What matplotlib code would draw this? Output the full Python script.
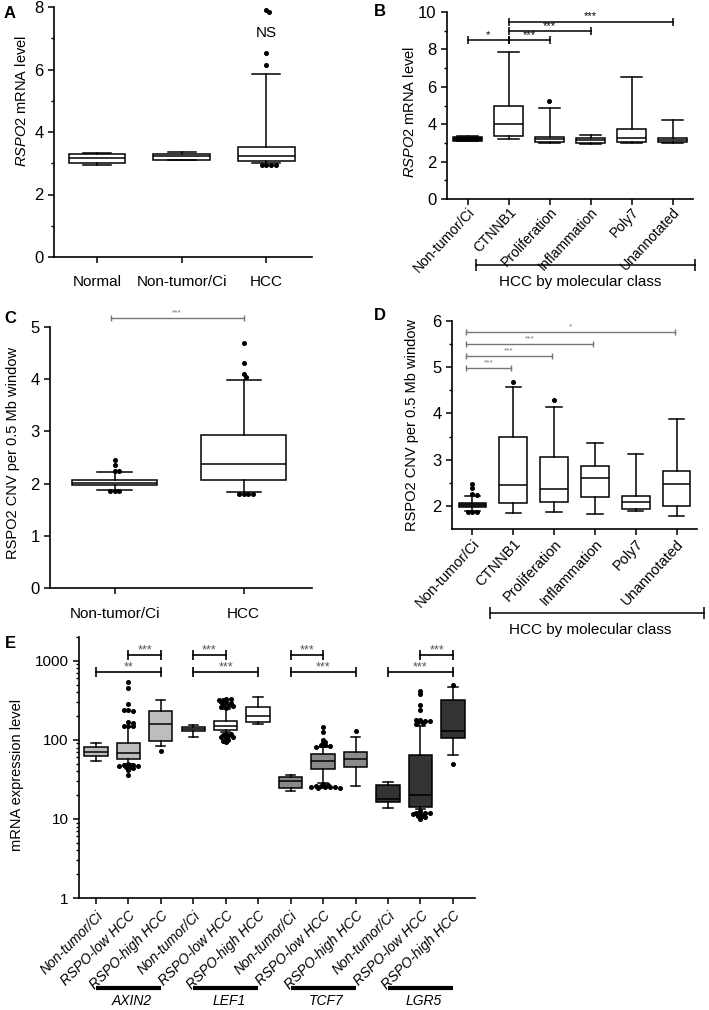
import matplotlib
matplotlib.use("Agg")
import matplotlib.pyplot as plt
import numpy as np

plt.rcParams['font.family'] = ['Liberation Sans', 'DejaVu Sans']
plt.rcParams['mathtext.fontset'] = 'custom'
plt.rcParams['mathtext.it'] = 'Liberation Sans:italic'
plt.rcParams['mathtext.rm'] = 'Liberation Sans'

# ---------------- DATA ----------------
# Panel A
A_cats = ["Normal", "Non-tumor/Ci", "HCC"]
A_q1 = [3.00, 3.12, 3.08]
A_med = [3.16, 3.22, 3.23]
A_q3 = [3.30, 3.30, 3.51]
A_lo = [2.93, 3.10, 3.02]
A_hi = [3.32, 3.37, 5.86]
A_fliers = [[], [], [7.90, 7.85, 6.52, 6.14, 2.96, 2.95, 2.94, 2.95]]

# Panel B
B_cats = ["Non-tumor/Ci", "CTNNB1", "Proliferation", "Inflammation", "Poly7", "Unannotated"]
B_q1 = [3.12, 3.36, 3.06, 3.02, 3.06, 3.06]
B_med = [3.20, 4.02, 3.19, 3.15, 3.24, 3.18]
B_q3 = [3.34, 4.98, 3.33, 3.27, 3.75, 3.26]
B_lo = [3.10, 3.19, 2.97, 2.94, 3.00, 3.02]
B_hi = [3.38, 7.86, 4.88, 3.42, 6.50, 4.20]
B_fliers = [[], [], [5.22], [], [], []]
B_sig = [(1, 2, 8.49, "*"), (2, 3, 8.49, "***"), (2, 4, 8.97, "***"), (2, 6, 9.47, "***")]

# Panel C
C_cats = ["Non-tumor/Ci", "HCC"]
C_q1 = [1.97, 2.06]
C_med = [2.01, 2.37]
C_q3 = [2.06, 2.93]
C_lo = [1.88, 1.83]
C_hi = [2.22, 3.98]
C_fliers = [[2.46, 2.35, 2.24, 2.25, 1.86, 1.85, 1.86],
            [4.70, 4.31, 4.10, 4.05, 1.80, 1.80, 1.80, 1.80]]

# Panel D
D_cats = ["Non-tumor/Ci", "CTNNB1", "Proliferation", "Inflammation", "Poly7", "Unannotated"]
D_q1 = [1.97, 2.07, 2.08, 2.20, 1.93, 2.00]
D_med = [2.01, 2.45, 2.36, 2.61, 2.09, 2.48]
D_q3 = [2.07, 3.50, 3.06, 2.87, 2.22, 2.76]
D_lo = [1.88, 1.84, 1.86, 1.82, 1.88, 1.79]
D_hi = [2.22, 4.57, 4.15, 3.36, 3.12, 3.89]
D_fliers = [[2.48, 2.38, 2.25, 2.24, 1.86, 1.86, 1.87], [4.69], [4.29], [], [], []]
D_sig = [(1, 2, 4.99, "***"), (1, 3, 5.25, "***"), (1, 4, 5.51, "***"), (1, 6, 5.77, "*")]

# Panel E
E_cats = ["Non-tumor/Ci", "RSPO-low HCC", "RSPO-high HCC"] * 4
E_genes = ["AXIN2", "LEF1", "TCF7", "LGR5"]
E_q1 = [63, 57, 97, 130, 134, 169, 24.6, 43, 45.5, 16.4, 14.2, 106]
E_med = [70, 68, 160, 138, 150, 200, 30, 54, 57, 18, 20, 130]
E_q3 = [81, 92, 233, 146, 173, 262, 34, 66, 70, 27, 65, 320]
E_lo = [54, 50, 83, 109, 126, 160, 22.5, 28.6, 26, 13.8, 13.4, 65]
E_hi = [92, 146, 320, 155, 246, 350, 36, 81, 109, 29.5, 150, 470]
E_fliers = [
    [],
    [540, 455, 285, 240, 235, 240, 170, 165, 150, 150, 148,
     49, 48, 48, 47, 47, 46, 45, 44, 42, 36],
    [72],
    [],
    [330, 325, 315, 300, 290, 280, 270, 260, 250, 320, 300, 270,
     120, 118, 115, 112, 110, 108, 105, 100, 97, 93],
    [],
    [],
    [145, 125, 100, 95, 90, 86, 85, 83, 82,
     27.5, 27, 26, 26, 25, 25, 25, 25, 24.8, 24.5],
    [130],
    [],
    [420, 380, 280, 240, 180, 175, 176, 172, 168, 165, 160,
     12.5, 12, 12, 11.8, 11.5, 11.5, 11, 10.8, 10.5, 10],
    [500, 50],
]
E_colors = ["#bdbdbd", "#bdbdbd", "#bdbdbd",
            "#c4c4c4", "#ffffff", "#ffffff",
            "#8a8a8a", "#8a8a8a", "#8a8a8a",
            "#333333", "#333333", "#333333"]
E_sig = [(1, 3, 730, "**"), (2, 3, 1200, "***"),
         (4, 5, 1200, "***"), (4, 6, 730, "***"),
         (7, 8, 1200, "***"), (7, 9, 730, "***"),
         (10, 12, 730, "***"), (11, 12, 1200, "***")]

# ---------------- FIGURE ----------------
W, H = 709, 1010
fig = plt.figure(figsize=(W / 100, H / 100), dpi=100)


def add_ax(l, t, r, b):
    ax = fig.add_axes([l / W, 1 - b / H, (r - l) / W, (b - t) / H])
    for s in ("top", "right"):
        ax.spines[s].set_visible(False)
    for s in ("left", "bottom"):
        ax.spines[s].set_linewidth(1.2)
    ax.tick_params(which="major", direction="out", length=4, width=1.1)
    ax.tick_params(which="minor", direction="out", length=2.5, width=1.0)
    ax.set_facecolor("none")
    return ax


def draw_boxes(ax, q1, med, q3, lo, hi, width, capfrac, faces, lw=1.1):
    n = len(q1)
    stats = [dict(q1=q1[i], med=med[i], q3=q3[i], whislo=lo[i], whishi=hi[i], fliers=[])
             for i in range(n)]
    pos = np.arange(1, n + 1)
    bp = ax.bxp(stats, positions=pos, widths=width, capwidths=width * capfrac,
                patch_artist=True, showfliers=False, manage_ticks=False,
                boxprops=dict(linewidth=lw, edgecolor="black"),
                medianprops=dict(color="black", linewidth=lw),
                whiskerprops=dict(color="black", linewidth=lw),
                capprops=dict(color="black", linewidth=lw))
    for patch, fc in zip(bp["boxes"], faces):
        patch.set_facecolor(fc)
    return pos


def swarm(ax, pos, fliers, step=2.4, mind=2.8, ms=2.6):
    trans = ax.transData
    inv = trans.inverted()
    for x0, vals in zip(pos, fliers):
        placed = []
        xs = []
        for v in vals:
            xd0, yd = trans.transform((x0, v))
            offs = [0]
            for k in range(1, 20):
                offs += [k, -k]
            for o in offs:
                xd = xd0 + o * step
                if all((xd - px) ** 2 + (yd - py) ** 2 >= mind ** 2 for px, py in placed):
                    break
            placed.append((xd, yd))
            xs.append(inv.transform((xd, yd))[0])
        if vals:
            ax.plot(xs, vals, "o", ms=ms, color="black", mec="black", clip_on=False, zorder=5)


def bracket(ax, x1, x2, y, text, color="black", lw=1.1, ms=6, fs=8, dy=0.5, tcolor=None):
    ax.plot([x1, x2], [y, y], color=color, lw=lw, marker="|", ms=ms, mew=lw, clip_on=False)
    ax.annotate(text, ((x1 + x2) / 2, y), xytext=(0, dy), textcoords="offset points",
                ha="center", va="bottom", fontsize=fs, color=tcolor or color,
                annotation_clip=False)


# ---------- Panel A ----------
axA = add_ax(54, 7, 312, 257)
axA.set_xlim(0.49, 3.54)
axA.set_ylim(0, 8)
posA = draw_boxes(axA, A_q1, A_med, A_q3, A_lo, A_hi, 0.67, 0.5, ["white"] * 3)
axA.set_yticks([0, 2, 4, 6, 8])
axA.set_yticks([1, 3, 5, 7], minor=True)
axA.set_xticks(posA)
axA.set_xticklabels(A_cats, fontsize=11)
axA.tick_params(axis="y", labelsize=12)
axA.tick_params(axis="x", pad=9)
swarm(axA, posA, A_fliers)
axA.text(3, 7.17, "NS", ha="center", va="center", fontsize=11)
fig.text(22 / W, 1 - 101 / H, r"$\it{RSPO2}$ mRNA level", rotation=90,
         ha="center", va="center", fontsize=10.5)

# ---------- Panel B ----------
axB = add_ax(447, 12, 693, 199)
axB.set_xlim(0.5, 6.5)
axB.set_ylim(0, 10)
facesB = ["black"] + ["white"] * 5
posB = draw_boxes(axB, B_q1, B_med, B_q3, B_lo, B_hi, 0.7, 0.7, facesB)
axB.set_yticks([0, 2, 4, 6, 8, 10])
axB.set_yticks([1, 3, 5, 7, 9], minor=True)
axB.set_xticks(posB)
axB.set_xticklabels(B_cats, fontsize=10, rotation=47, ha="right", va="top",
                    rotation_mode="anchor")
axB.tick_params(axis="y", labelsize=12)
axB.tick_params(axis="x", pad=0.5)
swarm(axB, posB, B_fliers)
for a, b, y, t in B_sig:
    bracket(axB, a, b, y, t, ms=6, fs=8, dy=0.3)
fig.text(410 / W, 1 - 112 / H, r"$\it{RSPO2}$ mRNA level", rotation=90,
         ha="center", va="center", fontsize=10.5)
trB = matplotlib.transforms.blended_transform_factory(axB.transData, axB.transAxes)
yB = (199 - 265) / (199 - 12)
axB.plot([1.2, 6.55], [yB, yB], color="black", lw=1.1, marker="|", ms=9, mew=1.1,
         transform=trB, clip_on=False)
fig.text(580 / W, 1 - 282 / H, "HCC by molecular class", ha="center", va="center", fontsize=11)

# ---------- Panel C ----------
axC = add_ax(50, 327, 312, 588)
axC.set_xlim(0.5, 2.53)
axC.set_ylim(0, 5)
posC = draw_boxes(axC, C_q1, C_med, C_q3, C_lo, C_hi, 0.66, 0.4, ["white"] * 2)
axC.set_yticks([0, 1, 2, 3, 4, 5])
axC.set_xticks(posC)
axC.set_xticklabels(C_cats, fontsize=11)
axC.tick_params(axis="y", labelsize=12)
axC.tick_params(axis="x", pad=10)
swarm(axC, posC, C_fliers)
bracket(axC, 0.97, 2.0, 5.17, "***", color="#777777", lw=1.0, ms=5, fs=6, dy=1.5)
fig.text(13 / W, 1 - 453 / H, "RSPO2 CNV per 0.5 Mb window", rotation=90,
         ha="center", va="center", fontsize=10.5)

# ---------- Panel D ----------
axD = add_ax(452, 321, 697, 529)
axD.set_xlim(0.5, 6.5)
axD.set_ylim(1.5, 6)
facesD = ["#555555"] + ["white"] * 5
posD = draw_boxes(axD, D_q1, D_med, D_q3, D_lo, D_hi, 0.68, 0.55, facesD)
axD.set_yticks([2, 3, 4, 5, 6])
axD.set_yticks([2.5, 3.5, 4.5, 5.5], minor=True)
axD.set_xticks(posD)
axD.set_xticklabels(D_cats, fontsize=10.5, rotation=47, ha="right", va="top",
                    rotation_mode="anchor")
axD.tick_params(axis="y", labelsize=12)
axD.tick_params(axis="x", pad=1.5)
swarm(axD, posD, D_fliers)
for a, b, y, t in D_sig:
    bracket(axD, a - 0.15, b - 0.05, y, t, color="#777777", lw=1.0, ms=5, fs=6, dy=1.0)
fig.text(412 / W, 1 - 425 / H, "RSPO2 CNV per 0.5 Mb window", rotation=90,
         ha="center", va="center", fontsize=10.5)
trD = matplotlib.transforms.blended_transform_factory(axD.transData, axD.transAxes)
yD = (529 - 613) / (529 - 321)
axD.plot([1.44, 6.68], [yD, yD], color="black", lw=1.1, marker="|", ms=9, mew=1.1,
         transform=trD, clip_on=False)
fig.text(590 / W, 1 - 630 / H, "HCC by molecular class", ha="center", va="center", fontsize=11)

# ---------- Panel E ----------
axE = add_ax(79, 637, 475, 898)
axE.set_yscale("log")
axE.set_xlim(0.48, 12.68)
axE.set_ylim(1, 2000)
posE = draw_boxes(axE, E_q1, E_med, E_q3, E_lo, E_hi, 0.72, 0.4, E_colors)
axE.set_yticks([1, 10, 100, 1000])
axE.set_yticklabels(["1", "10", "100", "1000"])
axE.tick_params(axis="y", labelsize=11)
axE.set_xticks(posE)
axE.set_xticklabels(E_cats, fontsize=10, style="italic", rotation=45, ha="right",
                    va="top", rotation_mode="anchor")
swarm(axE, posE, E_fliers)
for a, b, y, t in E_sig:
    bracket(axE, a, b, y, t, color="black", lw=1.2, ms=7, fs=9, dy=-1.5, tcolor="#555555")
fig.text(17 / W, 1 - 775 / H, "mRNA expression level", rotation=90,
         ha="center", va="center", fontsize=10.5)
trE = matplotlib.transforms.blended_transform_factory(axE.transData, axE.transAxes)
yE = (898 - 988) / (898 - 637)
yEt = (898 - 1001) / (898 - 637)
for g, gene in enumerate(E_genes):
    x1 = 1 + 3 * g
    axE.plot([x1, x1 + 2], [yE, yE], color="black", lw=3.0, transform=trE,
             clip_on=False, solid_capstyle="butt")
    axE.text(x1 + 1.1, yEt, gene, transform=trE, ha="center", va="center",
             fontsize=10, style="italic")

# ---------- Panel letters ----------
for lab, x, y in [("A", 10, 13), ("B", 380, 12), ("C", 10, 318), ("D", 380, 316), ("E", 10, 643)]:
    fig.text(x / W, 1 - y / H, lab, fontsize=12, fontweight="bold", ha="center", va="center")

fig.savefig("out.png", dpi=100)
